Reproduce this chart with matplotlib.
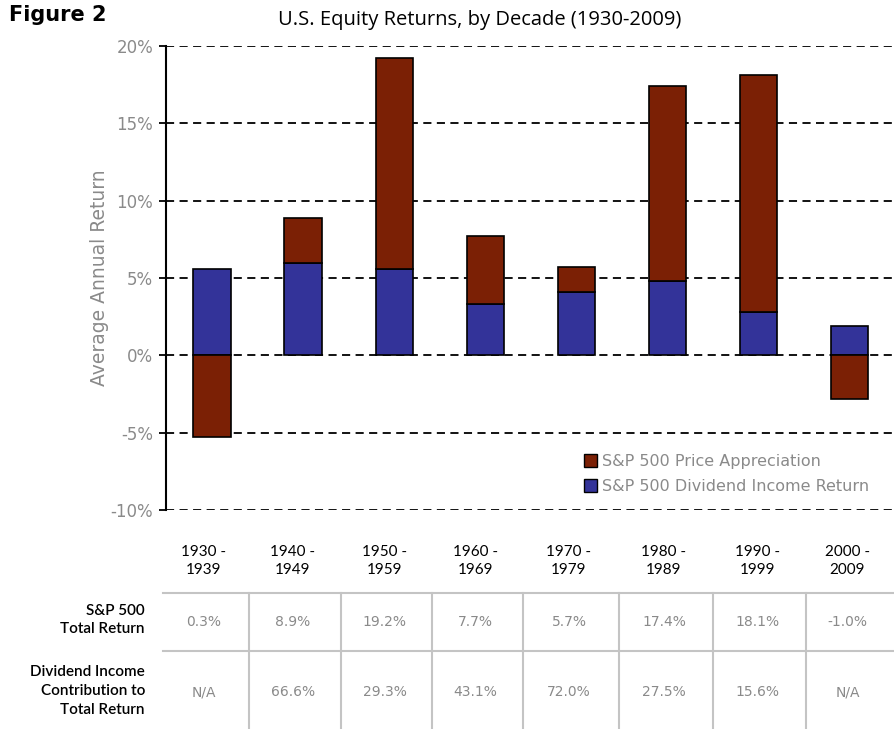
import matplotlib
matplotlib.use("Agg")
import matplotlib.pyplot as plt
from matplotlib.patches import Patch
from matplotlib.lines import Line2D

# data (percent)
decades = ["1930 -\n1939", "1940 -\n1949", "1950 -\n1959", "1960 -\n1969",
           "1970 -\n1979", "1980 -\n1989", "1990 -\n1999", "2000 -\n2009"]
dividend_return = [5.6, 6.0, 5.6, 3.3, 4.1, 4.8, 2.8, 1.9]
price_appreciation = [-5.3, 2.9, 13.6, 4.4, 1.6, 12.6, 15.3, -2.8]
total_return = ["0.3%", "8.9%", "19.2%", "7.7%", "5.7%", "17.4%", "18.1%", "-1.0%"]
dividend_share = ["N/A", "66.6%", "29.3%", "43.1%", "72.0%", "27.5%", "15.6%", "N/A"]
yticks = [-10, -5, 0, 5, 10, 15, 20]

PRICE_COLOR = "#7B2005"
DIV_COLOR = "#333399"
GRAY = "#8a8a8a"
plt.rcParams["font.family"] = ["DejaVu Sans"]

W, H = 895, 729
fig = plt.figure(figsize=(W / 100, H / 100), dpi=100)

# main chart axes, placed in pixel terms
ax_left, ax_right, ax_top, ax_bottom = 165.7, 893, 46, 510
ax = fig.add_axes([ax_left / W, 1 - ax_bottom / H, (ax_right - ax_left) / W, (ax_bottom - ax_top) / H])

x = list(range(len(decades)))
width = 0.41
ax.bar(x, dividend_return, width, color=DIV_COLOR, edgecolor="black", linewidth=1.2, zorder=3)
price_bottom = [d if p >= 0 else 0 for d, p in zip(dividend_return, price_appreciation)]
ax.bar(x, price_appreciation, width, bottom=price_bottom, color=PRICE_COLOR,
       edgecolor="black", linewidth=1.2, zorder=3)

for v in yticks:
    ax.axhline(v, color="black", linestyle=(0, (4.5, 3)), linewidth=1.3, zorder=1)

ax.set_xlim(-0.51, 7.48)
ax.set_ylim(-10, 20)
ax.set_yticks(yticks)
ax.set_yticklabels([f"{v}%" for v in yticks], color=GRAY, fontsize=12)
ax.set_xticks([])
for s in ["top", "right", "bottom"]:
    ax.spines[s].set_visible(False)
ax.spines["left"].set_linewidth(1.5)
ax.tick_params(axis="y", length=5, width=1.3, pad=4)
ax.set_ylabel("Average Annual Return", color=GRAY, fontsize=13.5, labelpad=1)

handles = [Patch(facecolor=PRICE_COLOR, edgecolor="black"),
           Patch(facecolor=DIV_COLOR, edgecolor="black")]
leg = ax.legend(handles, ["S&P 500 Price Appreciation", "S&P 500 Dividend Income Return"],
                loc="upper left", bbox_to_anchor=(0.555, 0.152), frameon=False,
                handlelength=0.85, handleheight=0.85, handletextpad=0.3,
                labelspacing=0.65, fontsize=11.5)
for t in leg.get_texts():
    t.set_color(GRAY)

fig.text(9 / W, 1 - 15 / H, "Figure 2", fontsize=15, fontweight="bold", family="DejaVu Sans",
         va="center", ha="left")
fig.text(480 / W, 1 - 20 / H, "U.S. Equity Returns, by Decade (1930-2009)", fontsize=14.5,
         family="Open Sans", va="center", ha="center")

# table below the chart, drawn in pixel coordinates
tab = fig.add_axes([0, 0, 1, 1 - 520 / H], zorder=-1)
tab.set_xlim(0, W)
tab.set_ylim(H, 520)
tab.axis("off")

col_edges = [163, 249, 341, 432, 523, 619, 713, 806, 893]
line_color = "#c4c4c4"
for y in [592.7, 650.7]:
    tab.add_line(Line2D([col_edges[0], col_edges[-1]], [y, y], color=line_color, linewidth=1.5))
for xe in col_edges[1:-1]:
    tab.add_line(Line2D([xe, xe], [592.7, H], color=line_color, linewidth=1.5))

for i, label in enumerate(decades):
    cx = (col_edges[i] + col_edges[i + 1]) / 2 - 2
    tab.text(cx, 561, label, ha="center", va="center", fontsize=11, family="Lato",
             linespacing=1.45)
    tab.text(cx, 622, total_return[i], ha="center", va="center", fontsize=10, color=GRAY)
    tab.text(cx, 692, dividend_share[i], ha="center", va="center", fontsize=10, color=GRAY)

tab.text(145, 620, "S&P 500\nTotal Return", ha="right", va="center", fontsize=11,
         family="Lato", fontweight="semibold", linespacing=1.45)
tab.text(145, 691, "Dividend Income\nContribution to\nTotal Return", ha="right", va="center",
         fontsize=11, family="Lato", fontweight="semibold", linespacing=1.45)

fig.savefig("out.png", dpi=100)
